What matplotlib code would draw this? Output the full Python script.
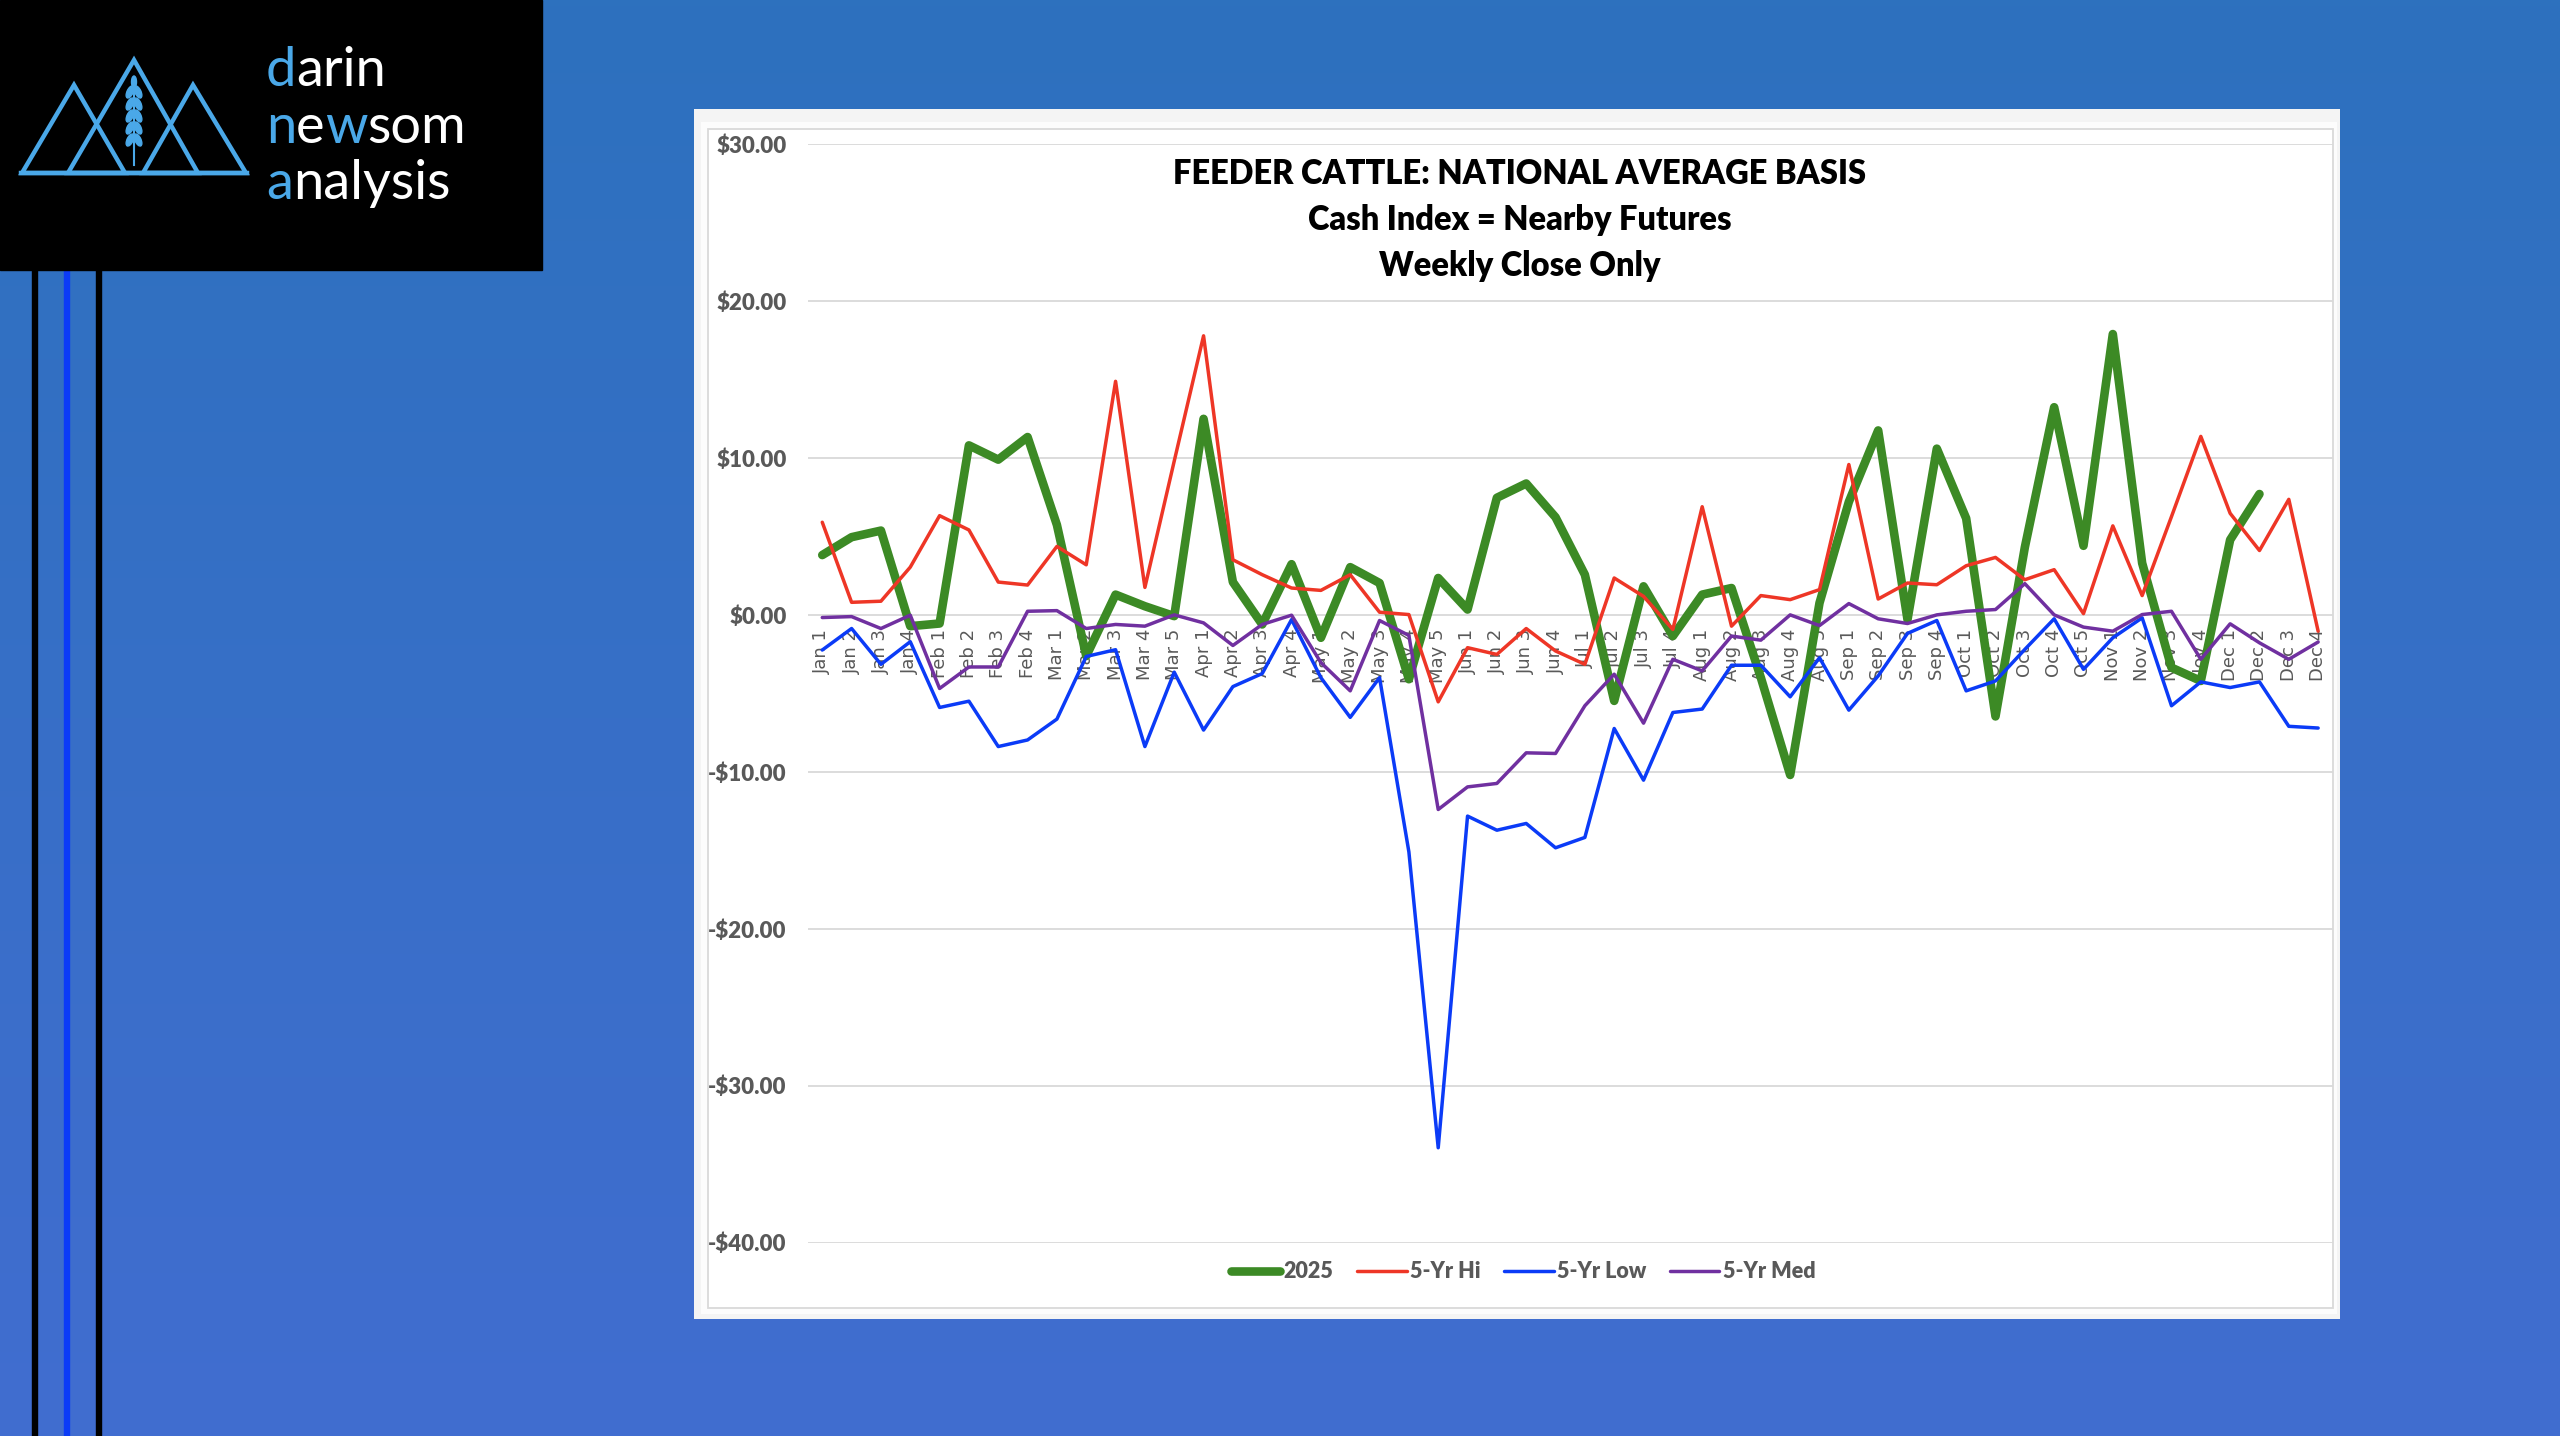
import numpy as np
import matplotlib
matplotlib.use("Agg")
import matplotlib.pyplot as plt
from matplotlib.patches import Rectangle, Polygon, Ellipse
from matplotlib.lines import Line2D
from matplotlib.ticker import FuncFormatter, FixedLocator

# ---------------- data ----------------
weeks = ["Jan 1", "Jan 2", "Jan 3", "Jan 4",
         "Feb 1", "Feb 2", "Feb 3", "Feb 4",
         "Mar 1", "Mar 2", "Mar 3", "Mar 4", "Mar 5",
         "Apr 1", "Apr 2", "Apr 3", "Apr 4",
         "May 1", "May 2", "May 3", "May 4", "May 5",
         "Jun 1", "Jun 2", "Jun 3", "Jun 4",
         "Jul 1", "Jul 2", "Jul 3", "Jul 4",
         "Aug 1", "Aug 2", "Aug 3", "Aug 4", "Aug 5",
         "Sep 1", "Sep 2", "Sep 3", "Sep 4",
         "Oct 1", "Oct 2", "Oct 3", "Oct 4", "Oct 5",
         "Nov 1", "Nov 2", "Nov 3", "Nov 4",
         "Dec 1", "Dec 2", "Dec 3", "Dec 4"]

basis_2025 = [3.81, 4.95, 5.37, -0.72,
              -0.55, 10.80, 9.89, 11.33,
              5.73, -2.62, 1.29, 0.55, -0.08,
              12.49, 2.09, -0.61, 3.23,
              -1.46, 3.04, 2.03, -4.10, 2.35,
              0.34, 7.46, 8.37, 6.22,
              2.56, -5.48, 1.82, -1.35,
              1.29, 1.71, -4.00, -10.20, 0.76,
              7.20, 11.75, -0.30, 10.59,
              6.15, -6.47, 4.30, 13.23, 4.40,
              17.89, 3.30, -3.36, -4.21,
              4.78, 7.70, np.nan, np.nan]

hi_5yr = [5.90, 0.80, 0.87, 3.04,
          6.32, 5.41, 2.09, 1.90,
          4.36, 3.19, 14.88, 1.75, 9.80,
          17.78, 3.51, 2.56, 1.71,
          1.56, 2.56, 0.17, 0.02, -5.54,
          -2.09, -2.52, -0.87, -2.30,
          -3.15, 2.35, 1.18, -0.93,
          6.89, -0.72, 1.23, 0.97, 1.61,
          9.58, 1.01, 2.03, 1.92,
          3.13, 3.66, 2.24, 2.88, 0.08,
          5.67, 1.23, 6.26, 11.37,
          6.47, 4.10, 7.36, -1.04]

low_5yr = [-2.24, -0.87, -3.15, -1.71,
           -5.90, -5.50, -8.39, -7.97,
           -6.64, -2.65, -2.22, -8.39, -3.65,
           -7.34, -4.57, -3.74, -0.30,
           -4.00, -6.53, -4.00, -15.10, -33.95,
           -12.82, -13.72, -13.29, -14.84,
           -14.18, -7.24, -10.53, -6.22,
           -6.00, -3.21, -3.21, -5.22, -2.73,
           -6.07, -3.89, -1.18, -0.36,
           -4.84, -4.21, -2.20, -0.25, -3.47,
           -1.46, -0.19, -5.79, -4.27,
           -4.63, -4.27, -7.10, -7.21]

med_5yr = [-0.17, -0.11, -0.87, -0.02,
           -4.69, -3.32, -3.32, 0.23,
           0.27, -0.87, -0.61, -0.72, 0.00,
           -0.51, -1.95, -0.61, -0.02,
           -3.04, -4.84, -0.36, -1.31, -12.40,
           -10.96, -10.74, -8.79, -8.83,
           -5.79, -3.78, -6.90, -2.83,
           -3.57, -1.35, -1.61, 0.00, -0.68,
           0.72, -0.25, -0.55, 0.00,
           0.23, 0.34, 1.99, 0.00, -0.78,
           -1.04, 0.02, 0.23, -2.83,
           -0.57, -1.78, -2.83, -1.73]

y_ticks = [30, 20, 10, 0, -10, -20, -30, -40]
series_labels = ["2025", "5-Yr Hi", "5-Yr Low", "5-Yr Med"]
title_lines = ["FEEDER CATTLE: NATIONAL AVERAGE BASIS",
               "Cash Index = Nearby Futures",
               "Weekly Close Only"]

# ---------------- styling ----------------
W, H = 2560, 1436
GREEN = "#3C8A25"
RED = "#EE3626"
BLUE = "#0B3BF7"
PURPLE = "#7030A0"
LABEL_GRAY = "#595959"
GRID = "#D9D9D9"
LOGO_BLUE = "#4AA8E8"
CAL = ["Lato", "Liberation Sans", "DejaVu Sans"]
THIN = 2.5
THICK = 6.2

fig = plt.figure(figsize=(W / 100, H / 100), dpi=100)

# background (pixel coordinates)
bg = fig.add_axes([0, 0, 1, 1], zorder=-10)
bg.set_xlim(0, W)
bg.set_ylim(H, 0)
bg.axis("off")
top_c = np.array([0x2D, 0x71, 0xBE]) / 255
bot_c = np.array([0x41, 0x6D, 0xD0]) / 255
t = np.linspace(0, 1, 256)[:, None, None]
grad = top_c[None, None, :] * (1 - t) + bot_c[None, None, :] * t
grad = np.repeat(grad, 2, axis=1)
bg.imshow(grad, extent=[0, W, H, 0], aspect="auto", zorder=0)

# left vertical stripes
for x0, c in [(32, "black"), (64, "#0B3BF7"), (96, "black")]:
    bg.add_patch(Rectangle((x0, 270), 5, H - 270, color=c, zorder=1))

# logo box
bg.add_patch(Rectangle((0, 0), 542, 270, color="black", zorder=2))
tri_kw = dict(closed=True, fill=False, edgecolor=LOGO_BLUE, lw=3.2,
              joinstyle="miter", zorder=3)
bg.add_patch(Polygon([(22, 173), (74, 85), (125, 173)], **tri_kw))
bg.add_patch(Polygon([(68, 173), (134, 60), (198, 173)], **tri_kw))
bg.add_patch(Polygon([(143, 173), (193, 85), (246, 173)], **tri_kw))
bg.plot([21, 247], [173, 173], color=LOGO_BLUE, lw=3.2, zorder=3)
# wheat stalk
bg.plot([134, 134], [88, 165], color=LOGO_BLUE, lw=1.5, zorder=3)
for yy in [92, 104, 116, 128, 140]:
    for dx, ang in [(-4, 25), (4, -25)]:
        bg.add_patch(Ellipse((134 + dx, yy), 6, 13, angle=ang,
                             color=LOGO_BLUE, zorder=3))
bg.add_patch(Ellipse((134, 82), 5, 12, color=LOGO_BLUE, zorder=3))

# logo words (multi-coloured pieces)
def word(x, y, pieces):
    prev = None
    for txt, col in pieces:
        if prev is None:
            prev = bg.text(x, y, txt, color=col, fontsize=39,
                           family=["Lato", "DejaVu Sans"],
                           ha="left", va="bottom", zorder=4)
        else:
            prev = bg.annotate(txt, xy=(1, 0), xycoords=prev, color=col,
                               fontsize=39, family=["Lato", "DejaVu Sans"],
                               ha="left", va="bottom", zorder=4)

word(266, 95, [("d", LOGO_BLUE), ("arin", "white")])
word(266, 152, [("n", LOGO_BLUE), ("e", "white"), ("w", LOGO_BLUE), ("som", "white")])
word(266, 208, [("a", LOGO_BLUE), ("nalysis", "white")])

# chart panel
bg.add_patch(Rectangle((694, 109), 2340 - 694, 1319 - 109,
                       facecolor="#F4F4F4", edgecolor="none", zorder=2))
bg.add_patch(Rectangle((701, 122), 2337 - 701, 1314 - 122,
                       facecolor="#FCFCFC", edgecolor="none", zorder=2))
bg.add_patch(Rectangle((708, 129), 2333 - 708, 1308 - 129,
                       facecolor="white", edgecolor=GRID, lw=1.3, zorder=2))

# ---------------- main chart ----------------
left_px, right_px = 807.6, 2332.8
top_px, bot_px = 144.0, 1242.7
ax = fig.add_axes([left_px / W, 1 - bot_px / H,
                   (right_px - left_px) / W, (bot_px - top_px) / H])
ax.set_facecolor("none")
x = np.arange(len(weeks))

ax.plot(x, basis_2025, color=GREEN, lw=THICK, solid_joinstyle="round",
        solid_capstyle="round", zorder=2, label=series_labels[0])
ax.plot(x, hi_5yr, color=RED, lw=THIN, solid_joinstyle="round",
        solid_capstyle="round", zorder=3, label=series_labels[1])
ax.plot(x, low_5yr, color=BLUE, lw=THIN, solid_joinstyle="round",
        solid_capstyle="round", zorder=4, label=series_labels[2])
ax.plot(x, med_5yr, color=PURPLE, lw=THIN, solid_joinstyle="round",
        solid_capstyle="round", zorder=5, label=series_labels[3])

ax.set_xlim(-0.5, len(weeks) - 0.5)
ax.set_ylim(-40, 30)
ax.yaxis.set_major_locator(FixedLocator(y_ticks))
ax.yaxis.set_major_formatter(FuncFormatter(
    lambda v, p: f"-${abs(v):.2f}" if v < 0 else f"${v:.2f}"))
ax.grid(axis="y", color=GRID, lw=1.3, zorder=0)
ax.set_axisbelow(True)
for s in ["top", "right", "left"]:
    ax.spines[s].set_visible(False)
ax.spines["bottom"].set_position(("data", 0))
ax.spines["bottom"].set_color("none")

ax.set_xticks(x)
ax.set_xticklabels(weeks, rotation=90, fontsize=13, color=LABEL_GRAY,
                   family="DejaVu Sans")
ax.tick_params(axis="x", length=0, pad=10)
ax.tick_params(axis="y", length=0, pad=15, labelsize=16, labelcolor=LABEL_GRAY)
for lab in ax.get_yticklabels():
    lab.set_fontfamily(CAL)
    lab.set_fontweight("heavy")

# title
title_x = 1520 / W
for line, ypx in zip(title_lines, [184.2, 230.0, 276.0]):
    fig.text(title_x, 1 - ypx / H, line, ha="center", va="baseline",
             fontsize=23.5, weight="heavy", color="black", family=CAL)

# legend
handles = [Line2D([], [], color=GREEN, lw=THICK, solid_capstyle="round"),
           Line2D([], [], color=RED, lw=THIN, solid_capstyle="round"),
           Line2D([], [], color=BLUE, lw=THIN, solid_capstyle="round"),
           Line2D([], [], color=PURPLE, lw=THIN, solid_capstyle="round")]
leg = fig.legend(handles, series_labels, loc="center",
                 bbox_to_anchor=(1523 / W, 1 - 1271.7 / H), ncol=4,
                 frameon=False, handlelength=2.3, handletextpad=0.15,
                 columnspacing=1.1,
                 prop={"family": CAL, "weight": "heavy", "size": 15.5})
for txt in leg.get_texts():
    txt.set_color(LABEL_GRAY)

fig.savefig("out.png", dpi=100)
